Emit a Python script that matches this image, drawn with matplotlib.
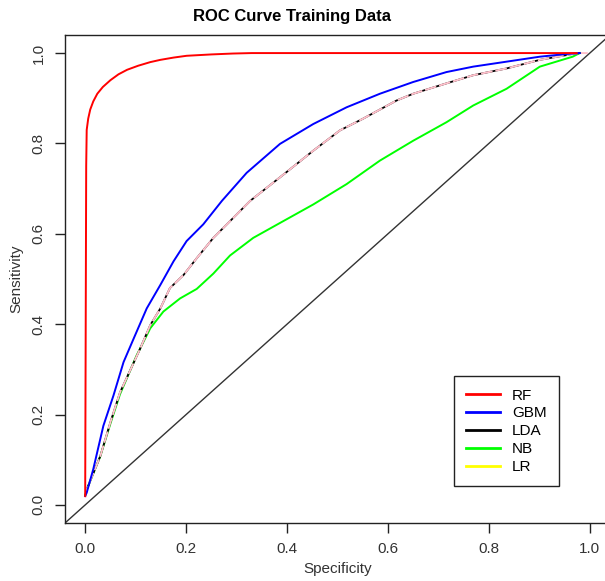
import matplotlib
matplotlib.use("Agg")
import matplotlib.pyplot as plt
from matplotlib.lines import Line2D

plt.rcParams['font.family'] = ['Liberation Sans', 'DejaVu Sans']

# values
rf_x = [0.0, 0.002, 0.003, 0.006, 0.01, 0.016, 0.024, 0.035, 0.05, 0.066, 0.083, 0.105,
        0.129, 0.149, 0.175, 0.201, 0.25, 0.293, 0.33, 0.974]
rf_y = [0.02, 0.75, 0.83, 0.855, 0.875, 0.893, 0.91, 0.925, 0.94, 0.953, 0.963, 0.972,
        0.98, 0.985, 0.99, 0.994, 0.997, 0.999, 1.0, 1.0]

gbm_x = [0.0, 0.003, 0.016, 0.036, 0.056, 0.076, 0.096, 0.122, 0.149, 0.175, 0.201, 0.234,
         0.271, 0.32, 0.386, 0.452, 0.518, 0.584, 0.65, 0.716, 0.769, 0.835, 0.901, 0.954, 0.98]
gbm_y = [0.02, 0.027, 0.079, 0.175, 0.242, 0.316, 0.368, 0.435, 0.487, 0.539, 0.584, 0.621,
         0.673, 0.735, 0.799, 0.843, 0.88, 0.91, 0.936, 0.958, 0.97, 0.981, 0.992, 0.998, 1.0]

lda_x = [0.0, 0.003, 0.03, 0.05, 0.069, 0.109, 0.129, 0.149, 0.168, 0.195, 0.221, 0.254,
         0.287, 0.327, 0.386, 0.452, 0.505, 0.551, 0.617, 0.65, 0.716, 0.769, 0.835, 0.901, 0.966, 0.98]
lda_y = [0.02, 0.034, 0.108, 0.183, 0.249, 0.346, 0.398, 0.435, 0.48, 0.509, 0.546, 0.591,
         0.628, 0.673, 0.725, 0.784, 0.829, 0.855, 0.895, 0.91, 0.933, 0.951, 0.966, 0.985, 0.998, 1.0]

nb_x = [0.0, 0.003, 0.03, 0.05, 0.069, 0.102, 0.129, 0.155, 0.188, 0.221, 0.254, 0.287,
        0.333, 0.386, 0.452, 0.518, 0.584, 0.65, 0.716, 0.769, 0.835, 0.901, 0.966, 0.98]
nb_y = [0.02, 0.034, 0.108, 0.18, 0.245, 0.331, 0.391, 0.428, 0.457, 0.478, 0.512, 0.552,
        0.591, 0.624, 0.665, 0.71, 0.762, 0.806, 0.847, 0.884, 0.921, 0.97, 0.992, 1.0]

lr_x = [0.0, 0.003, 0.03, 0.05, 0.069, 0.109, 0.129, 0.149, 0.168, 0.195, 0.221, 0.254,
        0.287, 0.327, 0.386, 0.452, 0.505, 0.551, 0.617, 0.65, 0.716, 0.769, 0.835, 0.901, 0.966, 0.98, 0.996]
lr_y = [0.016, 0.034, 0.108, 0.183, 0.249, 0.346, 0.398, 0.435, 0.48, 0.509, 0.546, 0.591,
        0.628, 0.673, 0.725, 0.784, 0.829, 0.855, 0.895, 0.91, 0.933, 0.951, 0.966, 0.985, 0.998, 1.0, 1.0]

ticks = [0.0, 0.2, 0.4, 0.6, 0.8, 1.0]
tick_labels = ['0.0', '0.2', '0.4', '0.6', '0.8', '1.0']
models = ['RF', 'GBM', 'LDA', 'NB', 'LR']
legend_colors = ['red', 'blue', 'black', '#00ff00', 'yellow']

fig = plt.figure(figsize=(6.05, 5.81), dpi=100)
ax = fig.add_axes([65 / 605, 58 / 581, 545 / 605, 488 / 581])

ax.plot([-0.1, 1.1], [-0.1, 1.1], color='#333333', lw=1)
ax.plot(nb_x, nb_y, color='#00ff00', lw=1.4)
ax.plot(lda_x, lda_y, color='black', lw=1.3)
ax.plot(lr_x, lr_y, color='#ffc0cb', lw=1.4, dashes=(6, 1.5))
ax.plot(gbm_x, gbm_y, color='blue', lw=1.4)
ax.plot(rf_x, rf_y, color='red', lw=1.4)

ax.set_xlim(-0.04, 1.04)
ax.set_ylim(-0.04, 1.04)
ax.set_xticks(ticks)
ax.set_xticklabels(tick_labels)
ax.set_yticks(ticks)
ax.set_yticklabels(tick_labels, rotation=90, va='center')
ax.tick_params(direction='out', length=7, width=1, labelsize=11, pad=7,
               colors='#222222', labelcolor='#333333')
for s in ax.spines.values():
    s.set_color('#222222')
    s.set_linewidth(1)

ax.set_xlabel('Specificity', fontsize=11, labelpad=4, color='#333333')
ax.set_ylabel('Sensitivity', fontsize=11, labelpad=6, color='#333333')
fig.text(292 / 605, 1 - 17 / 581, 'ROC Curve Training Data', ha='center', va='center',
         fontsize=12, fontweight='bold')

handles = [Line2D([0], [0], color=c, lw=2) for c in legend_colors]
leg = ax.legend(handles, models, loc='lower left', bbox_to_anchor=(0.7, 0.06),
                fancybox=False, framealpha=1, edgecolor='#222222', fontsize=11,
                handlelength=2.2, handletextpad=0.8, labelspacing=0.25, borderpad=0.8)
leg.get_frame().set_linewidth(1)

fig.savefig('out.png', dpi=100)
